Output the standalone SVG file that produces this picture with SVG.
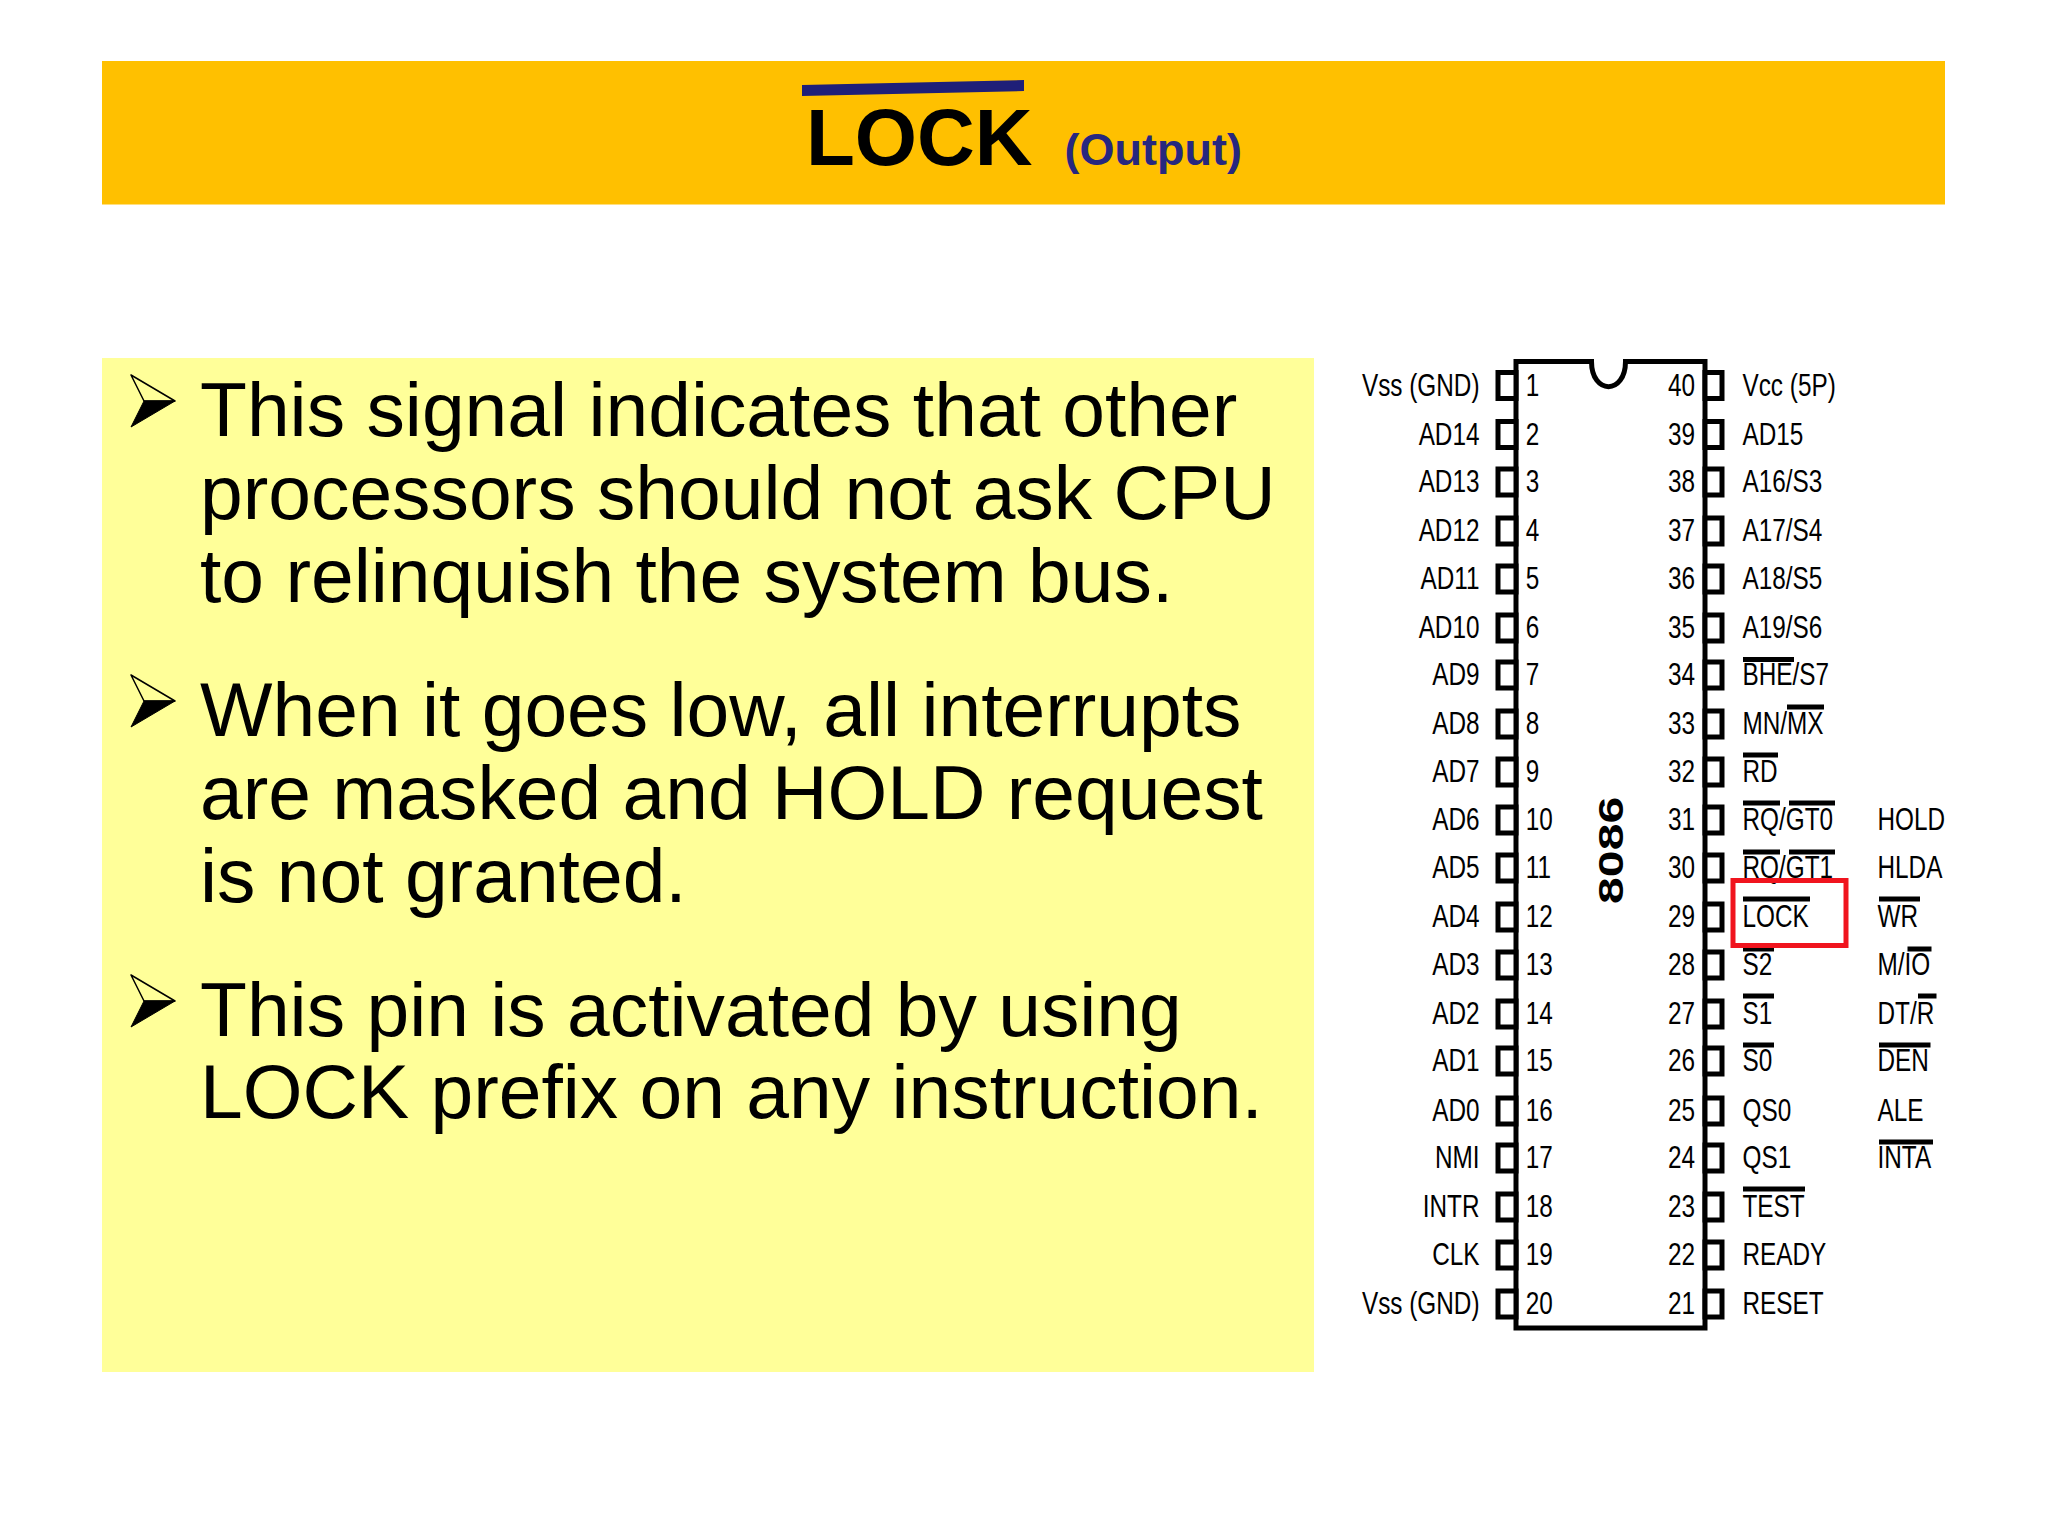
<svg xmlns="http://www.w3.org/2000/svg" width="2048" height="1536" viewBox="0 0 2048 1536">
<style>
text{font-family:"Liberation Sans",Arial,sans-serif;fill:#000}
.b{font-size:76.800px}
.l{font-size:31px}
.e{text-anchor:end}
.pin{fill:#fff;stroke:#000;stroke-width:5}
</style>
<defs>
<g id="bul" stroke-linejoin="round"><path d="M131 375L175 401L144 401Z" fill="none" stroke="#000" stroke-width="1.500"/><path d="M131 427L175 401L144 401Z" fill="#000" stroke="#000" stroke-width="1"/></g>
<rect id="pl" class="pin" x="1500.500" y="-13" width="18" height="26"/>
<rect id="pr" class="pin" x="1707.500" y="-13" width="17" height="26"/>
</defs>
<rect width="2048" height="1536" fill="#fff"/>
<rect x="102" y="61" width="1843" height="143.500" fill="#FFC000"/>
<polygon points="802,85 1024,80 1024,91 802,96" fill="#1f1f78"/>
<text x="806" y="165" font-size="80" font-weight="700">LOCK</text>
<text x="1064.500" y="165" font-size="45" font-weight="700" style="fill:#27277f">(Output)</text>
<rect x="102" y="358" width="1212" height="1014" fill="#FFFF99"/>
<use href="#bul"/><use href="#bul" y="300"/><use href="#bul" y="600"/>
<g class="b">
<text x="200" y="436">This signal indicates that other</text>
<text x="200" y="519">processors should not ask CPU</text>
<text x="200" y="602">to relinquish the system bus.</text>
<text x="200" y="736">When it goes low, all interrupts</text>
<text x="200" y="819">are masked and HOLD request</text>
<text x="200" y="902">is not granted.</text>
<text x="200" y="1036">This pin is activated by using</text>
<text x="200" y="1118">LOCK prefix on any instruction.</text>
</g>
<g id="chip" transform="translate(-2.500 0)">
<path d="M1594 361.500H1518.500V1328H1707.500V361.500H1628C1628 395 1594 395 1594 361.500Z" fill="#fff" stroke="#000" stroke-width="5"/>
<use href="#pl" y="385.500"/><use href="#pl" y="434.500"/><use href="#pl" y="482"/><use href="#pl" y="531"/><use href="#pl" y="579"/><use href="#pl" y="628"/><use href="#pl" y="675"/><use href="#pl" y="724"/><use href="#pl" y="772"/><use href="#pl" y="820"/><use href="#pl" y="868"/><use href="#pl" y="917"/><use href="#pl" y="965"/><use href="#pl" y="1014"/><use href="#pl" y="1061"/><use href="#pl" y="1111"/><use href="#pl" y="1158"/><use href="#pl" y="1207"/><use href="#pl" y="1255"/><use href="#pl" y="1304"/>
<use href="#pr" y="385.500"/><use href="#pr" y="434.500"/><use href="#pr" y="482"/><use href="#pr" y="531"/><use href="#pr" y="579"/><use href="#pr" y="628"/><use href="#pr" y="675"/><use href="#pr" y="724"/><use href="#pr" y="772"/><use href="#pr" y="820"/><use href="#pr" y="868"/><use href="#pr" y="917"/><use href="#pr" y="965"/><use href="#pr" y="1014"/><use href="#pr" y="1061"/><use href="#pr" y="1111"/><use href="#pr" y="1158"/><use href="#pr" y="1207"/><use href="#pr" y="1255"/><use href="#pr" y="1304"/>
</g>
<text transform="translate(1623 904) rotate(-90) scale(1.340 1)" font-size="36" font-weight="700">8086</text>
<g class="l" transform="translate(-1 -0.500) scale(.785 1)">
<g class="e">
<text x="1886" y="397">Vss (GND)</text><text x="1886" y="446">AD14</text><text x="1886" y="493">AD13</text><text x="1886" y="542">AD12</text><text x="1886" y="590">AD11</text><text x="1886" y="639">AD10</text><text x="1886" y="686">AD9</text><text x="1886" y="735">AD8</text><text x="1886" y="783">AD7</text><text x="1886" y="831">AD6</text><text x="1886" y="879">AD5</text><text x="1886" y="928">AD4</text><text x="1886" y="976">AD3</text><text x="1886" y="1025">AD2</text><text x="1886" y="1072">AD1</text><text x="1886" y="1122">AD0</text><text x="1886" y="1169">NMI</text><text x="1886" y="1218">INTR</text><text x="1886" y="1266">CLK</text><text x="1886" y="1315">Vss (GND)</text>
</g>
<g>
<text x="1945" y="397">1</text><text x="1945" y="446">2</text><text x="1945" y="493">3</text><text x="1945" y="542">4</text><text x="1945" y="590">5</text><text x="1945" y="639">6</text><text x="1945" y="686">7</text><text x="1945" y="735">8</text><text x="1945" y="783">9</text><text x="1945" y="831">10</text><text x="1945" y="879">11</text><text x="1945" y="928">12</text><text x="1945" y="976">13</text><text x="1945" y="1025">14</text><text x="1945" y="1072">15</text><text x="1945" y="1122">16</text><text x="1945" y="1169">17</text><text x="1945" y="1218">18</text><text x="1945" y="1266">19</text><text x="1945" y="1315">20</text>
</g>
<g>
<text x="2126" y="397">40</text><text x="2126" y="446">39</text><text x="2126" y="493">38</text><text x="2126" y="542">37</text><text x="2126" y="590">36</text><text x="2126" y="639">35</text><text x="2126" y="686">34</text><text x="2126" y="735">33</text><text x="2126" y="783">32</text><text x="2126" y="831">31</text><text x="2126" y="879">30</text><text x="2126" y="928">29</text><text x="2126" y="976">28</text><text x="2126" y="1025">27</text><text x="2126" y="1072">26</text><text x="2126" y="1122">25</text><text x="2126" y="1169">24</text><text x="2126" y="1218">23</text><text x="2126" y="1266">22</text><text x="2126" y="1315">21</text>
</g>
<g>
<text x="2221" y="397">Vcc (5P)</text><text x="2221" y="446">AD15</text><text x="2221" y="493">A16/S3</text><text x="2221" y="542">A17/S4</text><text x="2221" y="590">A18/S5</text><text x="2221" y="639">A19/S6</text><text x="2221" y="686">BHE/S7</text><text x="2221" y="735">MN/MX</text><text x="2221" y="783">RD</text><text x="2221" y="831">RQ/GT0</text><text x="2221" y="879">RQ/GT1</text><text x="2221" y="928">LOCK</text><text x="2221" y="976">S2</text><text x="2221" y="1025">S1</text><text x="2221" y="1072">S0</text><text x="2221" y="1122">QS0</text><text x="2221" y="1169">QS1</text><text x="2221" y="1218">TEST</text><text x="2221" y="1266">READY</text><text x="2221" y="1315">RESET</text>
</g>
<g>
<text x="2393" y="831">HOLD</text><text x="2393" y="879">HLDA</text><text x="2393" y="928">WR</text><text x="2393" y="976">M/IO</text><text x="2393" y="1025">DT/R</text><text x="2393" y="1072">DEN</text><text x="2393" y="1122">ALE</text><text x="2393" y="1169">INTA</text>
</g>
</g>
<path fill="none" stroke="#000" stroke-width="5" d="M1743 659.500H1794M1787 707H1824M1743 755H1778M1743 803H1780M1789 803H1835M1743 852H1780M1789 852H1835M1743 899H1810M1743 949H1774M1743 996H1774M1743 1045H1774M1743 1189H1805M1879 899H1920M1907.500 949H1931.500M1918 996H1936.500M1879 1045H1930.500M1879 1142H1933"/>
<rect x="1733" y="880.500" width="113" height="65" fill="none" stroke="#f0141e" stroke-width="5"/>
</svg>
